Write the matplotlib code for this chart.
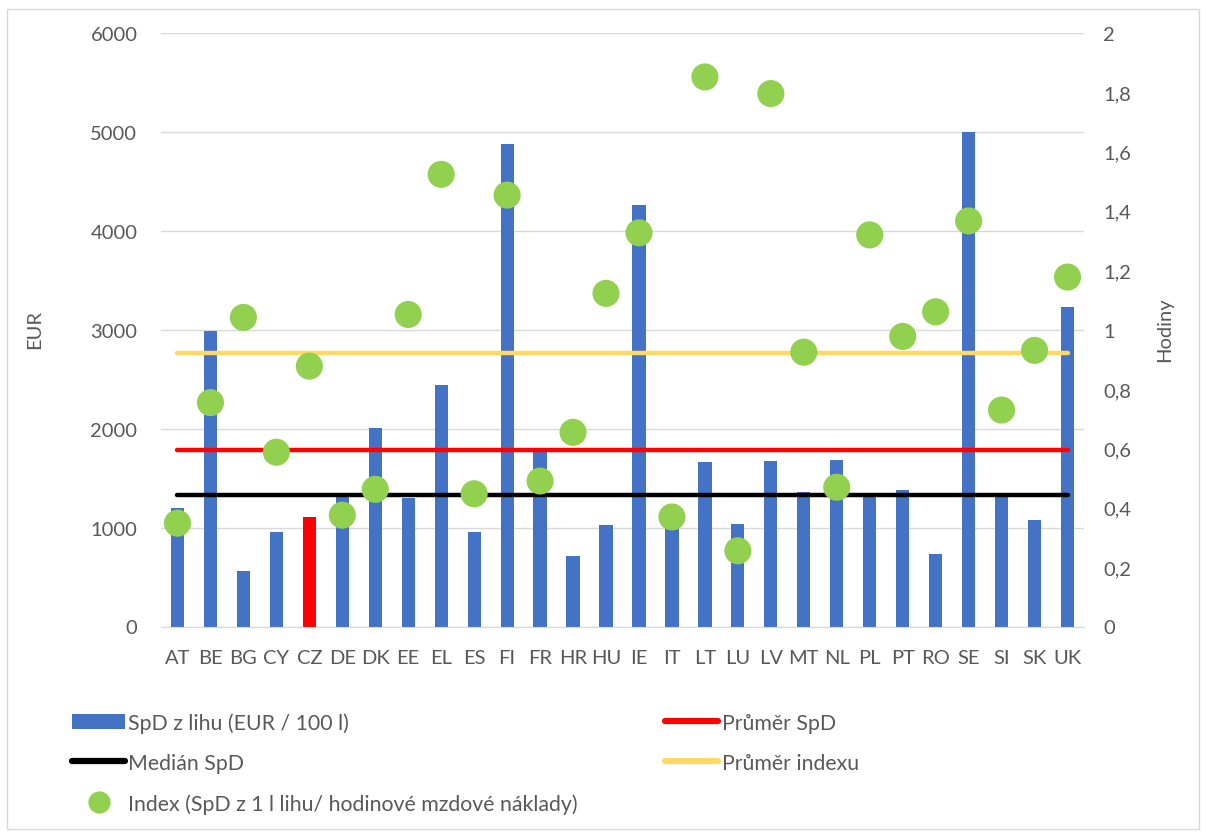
import matplotlib
matplotlib.use("Agg")
import matplotlib.pyplot as plt
from matplotlib.patches import Rectangle, Patch
from matplotlib.lines import Line2D
from matplotlib.ticker import FuncFormatter, MultipleLocator

plt.rcParams["font.family"] = ["Lato", "DejaVu Sans"]

countries = ["AT", "BE", "BG", "CY", "CZ", "DE", "DK", "EE", "EL", "ES", "FI", "FR",
             "HR", "HU", "IE", "IT", "LT", "LU", "LV", "MT", "NL", "PL", "PT", "RO",
             "SE", "SI", "SK", "UK"]
spd = [1200, 2990, 560, 950, 1105, 1310, 2010, 1300, 2445, 958, 4877, 1765,
       710, 1025, 4258, 1100, 1660, 1035, 1670, 1356, 1682, 1310, 1382, 730,
       5000, 1310, 1076, 3225]
index = [0.348, 0.754, 1.041, 0.587, 0.877, 0.375, 0.462, 1.051, 1.523, 0.447, 1.453, 0.490,
         0.654, 1.122, 1.326, 0.369, 1.851, 0.255, 1.795, 0.924, 0.469, 1.319, 0.977, 1.060,
         1.366, 0.729, 0.930, 1.177]
spd_mean = 1786
spd_median = 1325
index_mean = 0.92
highlight = "CZ"

BLUE = "#4472C4"
RED = "#FF0000"
GREEN = "#92D050"
YELLOW = "#FFD966"
GRID = "#D9D9D9"
TEXT = "#595959"
FS = 14.5
LEG_FS = 15.3

W, H = 1206, 837
fig = plt.figure(figsize=(W / 100, H / 100), dpi=100)
fig.patches.append(Rectangle((7 / W, 1 - 830 / H), (1199 - 7) / W, (830 - 10) / H,
                             transform=fig.transFigure, fill=False,
                             edgecolor=GRID, linewidth=1))

left, right, top, bottom = 161, 1084, 33.7, 627.5
ax = fig.add_axes([left / W, 1 - bottom / H, (right - left) / W, (bottom - top) / H])
ax2 = ax.twinx()

x = list(range(len(countries)))
colors = [RED if c == highlight else BLUE for c in countries]
ax.bar(x, spd, width=0.4, color=colors, zorder=2)
ax.plot([x[0], x[-1]], [spd_mean, spd_mean], color=RED, lw=3.2,
        solid_capstyle="round", zorder=3)
ax.plot([x[0], x[-1]], [spd_median, spd_median], color="black", lw=3.2,
        solid_capstyle="round", zorder=3)

ax2.plot([x[0], x[-1]], [index_mean, index_mean], color=YELLOW, lw=3.2,
         solid_capstyle="round", zorder=3)
ax2.scatter(x, index, s=19.5 ** 2, color=GREEN, edgecolors="none", zorder=4)

ax.set_xlim(-0.5, len(countries) - 0.5)
ax.set_ylim(0, 6000)
ax2.set_ylim(0, 2)
ax.yaxis.set_major_locator(MultipleLocator(1000))
ax2.yaxis.set_major_locator(MultipleLocator(0.2))
ax2.yaxis.set_major_formatter(FuncFormatter(
    lambda v, p: ("%g" % round(v, 1)).replace(".", ",")))

ax.set_xticks(x)
ax.set_xticklabels(countries)
ax.grid(axis="y", color=GRID, lw=1, zorder=0)
ax.set_axisbelow(True)

for a in (ax, ax2):
    for s in a.spines.values():
        s.set_visible(False)
    a.tick_params(length=0, labelsize=FS, labelcolor=TEXT)
ax.spines["bottom"].set_visible(True)
ax.spines["bottom"].set_color(GRID)
ax.tick_params(axis="x", pad=16)
ax.tick_params(axis="y", pad=17)
ax2.tick_params(axis="y", pad=14)

fig.text(35 / W, 1 - 330 / H, "EUR", rotation=90, ha="center", va="center",
         fontsize=FS, color=TEXT)
fig.text(1165 / W, 1 - 330 / H, "Hodiny", rotation=90, ha="center", va="center",
         fontsize=FS, color=TEXT)

handles = [
    Patch(facecolor=BLUE, edgecolor="none"),
    Line2D([], [], color="black", lw=4.5, solid_capstyle="round"),
    Line2D([], [], color=GREEN, marker="o", ls="none", markersize=16,
           markeredgecolor="none"),
    Line2D([], [], color=RED, lw=4.5, solid_capstyle="round"),
    Line2D([], [], color=YELLOW, lw=4.5, solid_capstyle="round"),
]
labels = ["SpD z lihu (EUR / 100 l)", "Medián SpD",
          "Index (SpD z 1 l lihu/ hodinové mzdové náklady)",
          "Průměr SpD", "Průměr indexu"]
leg = fig.legend(handles, labels, ncol=2, loc="upper left",
                 bbox_to_anchor=(53 / W, 1 - 694 / H), frameon=False,
                 fontsize=LEG_FS, handlelength=2.5, handleheight=0.7,
                 handletextpad=0.15, labelspacing=0.95, columnspacing=4.1)
for t in leg.get_texts():
    t.set_color(TEXT)

fig.savefig("out.png", dpi=100)
